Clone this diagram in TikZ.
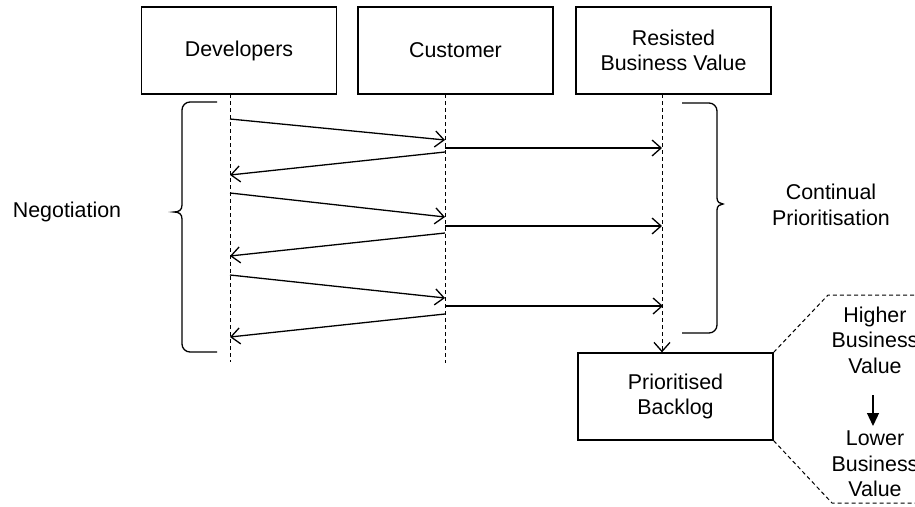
\documentclass[tikz,border=0pt]{standalone}
\usepackage{fontspec}
\setmainfont{Liberation Sans}
\usetikzlibrary{arrows.meta}
\newcommand\lblfont{\fontsize{21.4}{25.5}\selectfont}
\begin{document}
\begin{tikzpicture}[x=1pt,y=-1pt,
  box/.style={draw,line width=1.3pt,minimum width=195pt,minimum height=87pt,inner sep=0pt,align=center,font=\lblfont},
  lifeline/.style={line width=1pt,dash pattern=on 4pt off 3pt},
  msg/.style={line width=1.3pt,-{Straight Barb[length=9pt,width=16pt,line width=1.3pt]}},
  bracestyle/.style={line width=1.3pt},
  callout/.style={line width=1pt,dash pattern=on 4pt off 3pt},
  lbl/.style={font=\lblfont,align=center,inner sep=0pt}]
\useasboundingbox (0,0) rectangle (915,506);
\fill[white] (0,0) rectangle (915,506);

% boxes
\node[box] (dev) at (239,50.5) {Developers};
\node[box] (cus) at (455.5,50.5) {Customer};
\node[box] (res) at (673.5,50.5) {Resisted\\Business Value};
\node[box] (bl) at (675.5,396.5) {Prioritised\\Backlog};

% lifelines
\coordinate (dtop) at (230,94);
\coordinate (dbot) at (230,362);
\coordinate (ctop) at (445,94);
\coordinate (cbot) at (445,363);
\coordinate (rtop) at (662,94);
\coordinate (rbot) at (rtop |- bl.north);
\draw[lifeline] (dtop) -- (dbot);
\draw[lifeline] (ctop) -- (cbot);
\draw[lifeline,-{Straight Barb[length=9pt,width=16pt,line width=1.3pt]}] (rtop) -- (rbot);

% message points
\coordinate (d1) at (230,119);  \coordinate (c1) at (445,140);
\coordinate (c2) at (445,148);  \coordinate (r2) at (662,148);
\coordinate (c3) at (445,152);  \coordinate (d3) at (230,175);
\coordinate (d4) at (230,193);  \coordinate (c4) at (445,217);
\coordinate (c5) at (445,226);  \coordinate (r5) at (662,226);
\coordinate (c6) at (445,233);  \coordinate (d6) at (230,256);
\coordinate (d7) at (230,275);  \coordinate (c7) at (445,298);
\coordinate (c8) at (445,306);  \coordinate (r8) at (663,306);
\coordinate (c9) at (445,314);  \coordinate (d9) at (230,337);
\draw[msg] (d1) -- (c1);
\draw[msg] (c2) -- (r2);
\draw[msg] (c3) -- (d3);
\draw[msg] (d4) -- (c4);
\draw[msg] (c5) -- (r5);
\draw[msg] (c6) -- (d6);
\draw[msg] (d7) -- (c7);
\draw[msg] (c8) -- (r8);
\draw[msg] (c9) -- (d9);

% braces
\draw[bracestyle] (217,102) [rounded corners=8pt] -- (182,102) -- (182,160) [sharp corners] -- (182,205)
  .. controls (182,210) and (179,212) .. (174,212)
  .. controls (179,212) and (182,214) .. (182,219) -- (182,300) [rounded corners=8pt] -- (182,352) -- (217,352);
\draw[bracestyle] (682,103) [rounded corners=8pt] -- (717,103) -- (717,150) [sharp corners] -- (717,198)
  .. controls (717,202) and (720,204) .. (723,204)
  .. controls (720,204) and (717,206) .. (717,210) -- (717,290) [rounded corners=8pt] -- (717,333) -- (682,333);

% labels
\node[lbl] (neg) at (67,212) {Negotiation};
\node[lbl] (cp) at (831,205) {Continual\\Prioritisation};

% callout
\coordinate (o1) at (828,295);
\coordinate (o2) at (916,295);
\coordinate (o3) at (832,503);
\coordinate (o4) at (916,503);
\draw[callout] (bl.north east) -- (o1) -- (o2);
\draw[callout] (bl.south east) -- (o3) -- (o4);
\node[lbl] (hi) at (875,340) {Higher\\Business\\Value};
\node[lbl] (lo) at (875,464) {Lower\\Business\\Value};
\coordinate (ha) at (873,395);
\coordinate (hb) at (873,426);
\draw[line width=1.3pt,-{Triangle[length=13pt,width=12pt]}] (ha) -- (hb);
\end{tikzpicture}
\end{document}
